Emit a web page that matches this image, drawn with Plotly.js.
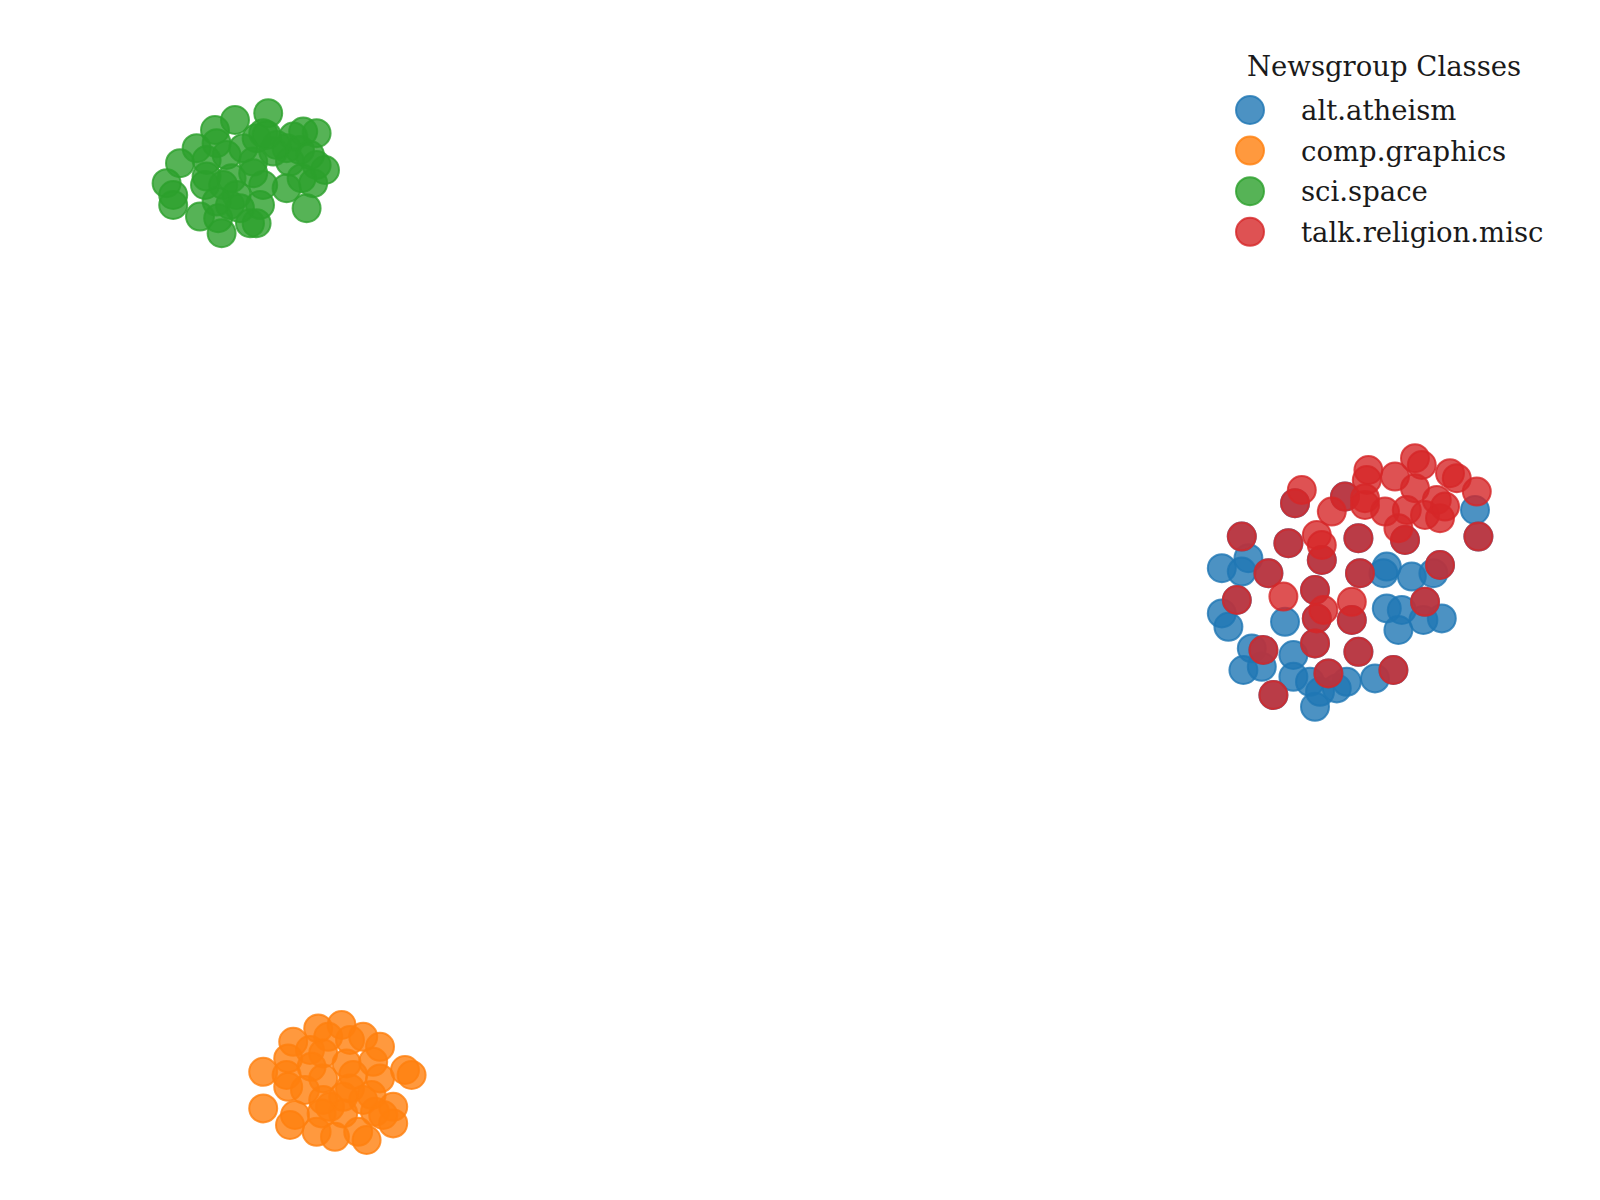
<!DOCTYPE html>
<html><head><meta charset="utf-8">
<script src="https://cdn.plot.ly/plotly-3.0.1.min.js"></script>
<style>html,body{margin:0;padding:0;background:#fff}#chart{width:1600px;height:1200px}</style>
</head><body><div id="chart"></div>
<script>
const categories = ["alt.atheism", "comp.graphics", "sci.space", "talk.religion.misc"];
const colors = ["31,119,180", "255,127,14", "44,160,44", "214,39,40"];
const legendTitle = "Newsgroup Classes";

// t-SNE embedding (dimension 1 / dimension 2)
const atheismX = [22.42,21.09,22.09,21.09,21.42,24.25,22.59,22.17,23.09,24.67,24.67,25.5,25.75,26.0,26.84,27.34,28.75,29.34,29.17,30.59,31.67,29.34,30.09,29.92,31.17,32.09,33.75,
  24.75,27.25,30.25,33.92,27.92,26.09,24.42,22.09,23.42,21.84,25.75,25.84,27.59,28.0,32.0,31.25,23.17,25.75,27.92,26.42,29.67,23.67];
const atheismY = [2.09,1.59,1.42,-0.67,-1.34,-1.09,-2.42,-3.5,-3.34,-2.75,-3.84,-4.09,-5.34,-4.59,-4.42,-4.09,-3.92,1.67,1.34,1.17,1.34,-0.42,-0.5,-1.5,-1.0,-0.92,4.5,
  4.84,5.17,3.0,3.17,3.09,2.0,2.84,3.17,1.34,0.0,0.5,-0.92,-1.0,1.34,1.75,-0.09,-2.5,-2.17,-2.59,-3.67,-3.5,-4.75];

const graphicsX = [-24.09,-22.92,-25.34,-23.59,-22.5,-21.0,-21.84,-24.5,-23.84,-25.59,-26.84,-25.67,-24.42,-22.67,-21.34,-19.75,-19.42,-21.0,-22.34,-23.84,-25.59,-24.75,-22.5,-26.84,-25.25,-25.5,-24.17,-23.5,-22.84,-23.25,-22.09,-21.67,-21.25,-20.34,-20.34,-20.84,-21.84,-22.84,-23.84,-21.42,-23.92];
const graphicsY = [-21.42,-21.25,-22.09,-21.84,-22.0,-22.34,-21.84,-22.5,-22.67,-22.92,-23.59,-23.75,-23.34,-23.17,-23.09,-23.5,-23.75,-23.92,-23.75,-23.92,-24.34,-24.5,-24.42,-25.42,-25.75,-26.25,-26.59,-25.34,-25.67,-26.84,-26.59,-27.0,-25.59,-25.34,-26.17,-25.75,-25.0,-24.84,-25.0,-24.75,-25.67];

const spaceX = [-26.59,-28.25,-29.25,-30.17,-31.0,-31.67,-31.34,-31.34,-30.0,-28.92,-29.09,-28.5,-27.17,-27.5,-27.0,-26.84,-25.67,-24.67,-24.34,-23.75,-24.17,-24.17,-24.84,-25.34,-25.67,-26.84,-27.17,-27.34,-27.84,-28.67,-29.17,-29.67,-29.67,-29.75,-28.84,-28.42,-28.17,-29.17,-28.0,-25.5,-25.0,-24.5,-26.17,-24.92,-26.34,-27.34,-26.67];
const spaceY = [24.34,24.0,23.5,22.59,21.84,20.84,20.25,19.75,19.17,18.34,19.09,19.75,18.84,18.84,19.75,20.75,20.59,19.59,20.84,21.5,21.75,23.34,23.42,23.17,22.59,23.34,23.09,21.92,22.59,22.25,22.84,22.0,21.17,20.75,20.75,21.09,20.25,19.92,19.59,21.92,22.5,22.25,22.75,21.09,22.42,21.34,23.25];

const religionX = [24.75,27.25,30.25,33.92,27.92,26.09,24.42,22.09,23.42,21.84,25.75,25.84,27.59,28.0,32.0,31.25,23.17,25.75,27.92,26.42,29.67,23.67,
  25.09,28.42,28.34,30.75,31.09,29.75,32.5,32.84,33.84,30.75,28.25,28.25,26.59,29.25,30.34,31.25,32.0,31.84,32.25,29.92,25.84,26.09,24.17,26.17,27.59];
const religionY = [4.84,5.17,3.0,3.17,3.09,2.0,2.84,3.17,1.34,0.0,0.5,-0.92,-1.0,1.34,1.75,-0.09,-2.5,-2.17,-2.59,-3.67,-3.5,-4.75,
  5.5,6.5,6.0,7.09,6.75,6.17,6.34,6.09,5.42,5.59,5.09,4.75,4.42,4.42,4.5,4.25,4.09,5.0,4.67,3.59,3.25,2.75,0.17,-0.5,-0.09];

const seriesX = [atheismX, graphicsX, spaceX, religionX];
const seriesY = [atheismY, graphicsY, spaceY, religionY];
const rgba = (c) => "rgba(" + c + ",0.8)";

const traces = categories.map((name, i) => ({
  type: "scatter", mode: "markers", name: name,
  x: seriesX[i], y: seriesY[i],
  marker: {size: 28, color: rgba(colors[i]), line: {color: rgba(colors[i]), width: 2}},
  showlegend: false, hoverinfo: "skip"
}));

// custom legend (marker size as in the reference)
const fontSpec = {family: "DejaVu Serif", size: 27.5, color: "#1a1a1a"};
const shapes = [];
const annotations = [{
  xref: "paper", yref: "paper", x: 1384/1600, y: 1 - 66/1200,
  xanchor: "center", yanchor: "middle", showarrow: false,
  text: legendTitle, font: fontSpec
}];
categories.forEach((name, i) => {
  const cy = 110 + i * 40.6;
  const r = 14;
  shapes.push({
    type: "circle", xref: "paper", yref: "paper",
    x0: (1250 - r) / 1600, x1: (1250 + r) / 1600,
    y0: 1 - (cy + r) / 1200, y1: 1 - (cy - r) / 1200,
    fillcolor: rgba(colors[i]), line: {color: rgba(colors[i]), width: 2}
  });
  annotations.push({
    xref: "paper", yref: "paper", x: 1299/1600, y: 1 - cy/1200,
    xanchor: "left", yanchor: "middle", showarrow: false,
    text: name, font: fontSpec
  });
});

const layout = {
  width: 1600, height: 1200,
  margin: {l: 0, r: 0, t: 0, b: 0},
  paper_bgcolor: "#ffffff", plot_bgcolor: "#ffffff",
  xaxis: {range: [-40, 40], visible: false, fixedrange: true},
  yaxis: {range: [-30, 30], visible: false, fixedrange: true},
  showlegend: false,
  shapes: shapes, annotations: annotations
};
Plotly.newPlot("chart", traces, layout, {displayModeBar: false, staticPlot: true});
</script></body></html>
